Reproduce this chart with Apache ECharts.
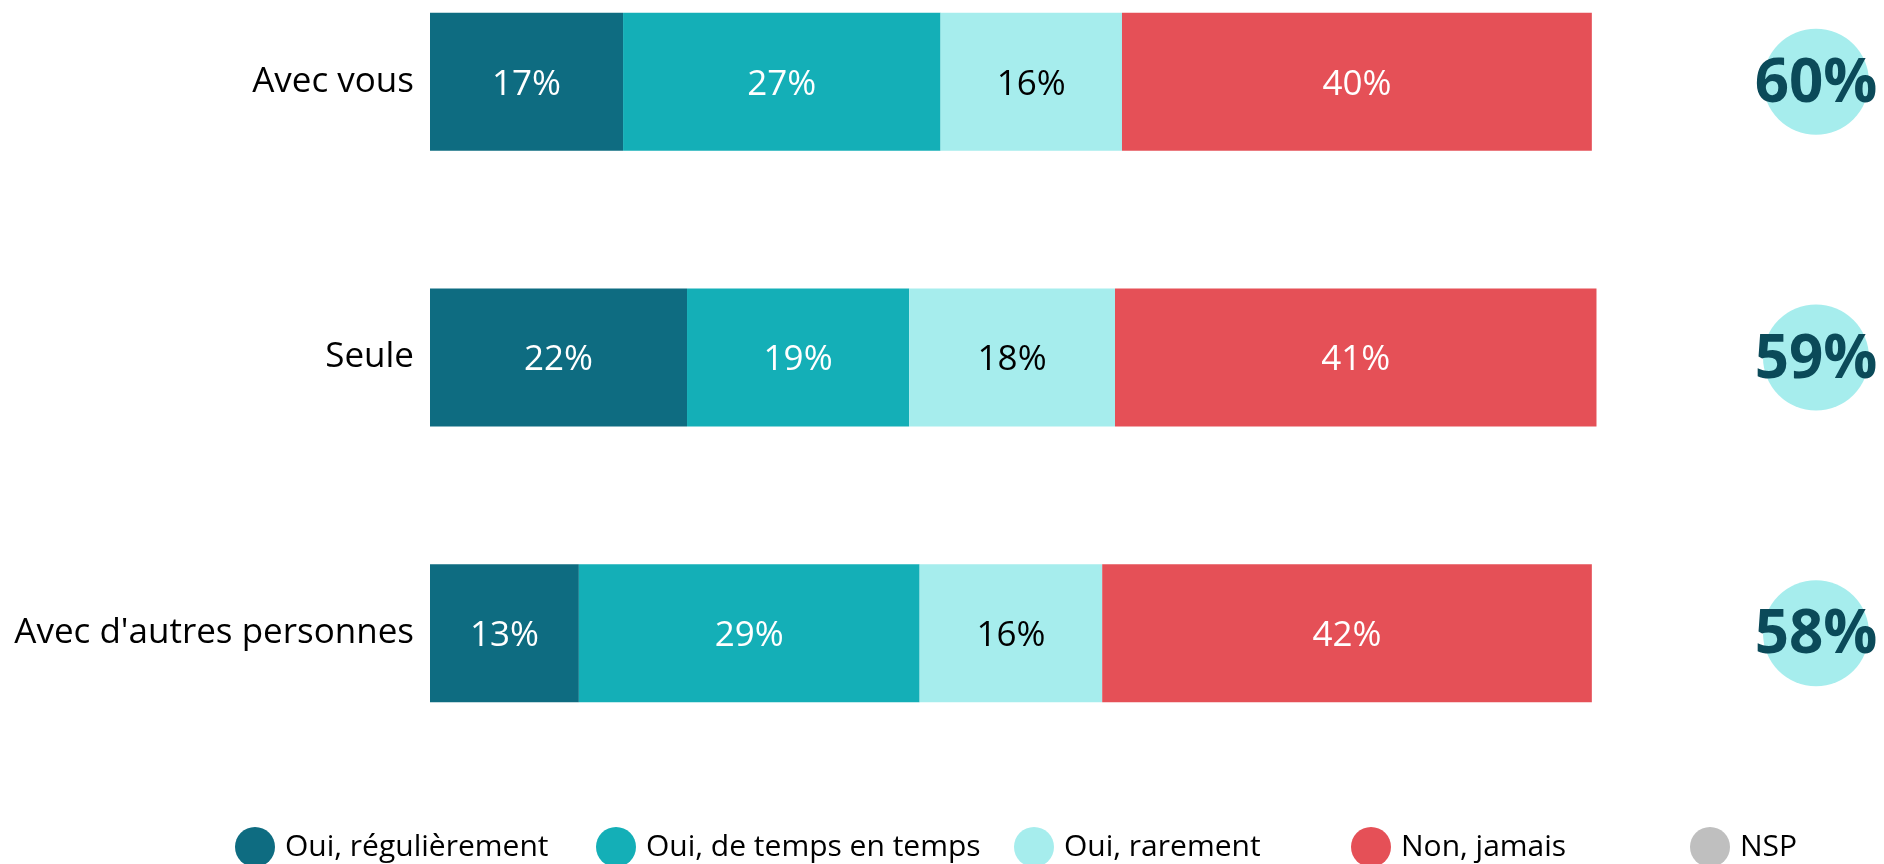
<!DOCTYPE html>
<html>
<head>
<meta charset="utf-8">
<script src="https://cdn.jsdelivr.net/npm/echarts@6/dist/echarts.min.js"></script>
<style>
  html, body { margin: 0; padding: 0; background: #fff; }
  #chart { width: 1884px; height: 864px; }
</style>
</head>
<body>
<div id="chart"></div>
<script>
// catégories (du haut vers le bas)
var categories = ["Avec vous", "Seule", "Avec d'autres personnes"];
var ouiRegulierement = [16.6, 22.1, 12.8];
var ouiTempsEnTemps = [27.3, 19.1, 29.3];
var ouiRarement = [15.6, 17.7, 15.7];
var nonJamais = [40.4, 41.4, 42.1];
var nsp = [0, 0, 0];
// total "Oui" affiché dans les pastilles
var totalOui = [60, 59, 58];

var seriesNames = ["Oui, régulièrement", "Oui, de temps en temps", "Oui, rarement", "Non, jamais", "NSP"];
var colors = ["#0e6c81", "#14afb7", "#a6eded", "#e55057", "#bfbfbf"];
var labelColors = ["#fff", "#fff", "#000", "#fff", "#000"];
var seriesData = [ouiRegulierement, ouiTempsEnTemps, ouiRarement, nonJamais, nsp];

var font = "'Open Sans', 'Noto Sans', sans-serif";

var chart = echarts.init(document.getElementById("chart"));

var series = seriesData.map(function (d, i) {
  return {
    name: seriesNames[i],
    type: "bar",
    stack: "total",
    barWidth: 138,
    clip: false,
    data: d,
    itemStyle: { color: colors[i] },
    label: {
      show: i < 4,
      position: "inside",
      offset: [0, 3],
      color: labelColors[i],
      fontFamily: font,
      fontSize: 35,
      formatter: function (p) { return Math.round(p.value) + "%"; }
    }
  };
});

// pastilles à droite
series.push({
  name: "total",
  type: "scatter",
  xAxisIndex: 1,
  yAxisIndex: 1,
  symbolSize: 106,
  itemStyle: { color: "#a6eded", opacity: 1 },
  data: totalOui.map(function (v, i) { return [0, i, v]; }),
  label: {
    show: true,
    position: "inside",
    offset: [0, 3],
    color: "#0b4a59",
    opacity: 1,
    fontFamily: font,
    fontWeight: "bold",
    fontSize: 60,
    formatter: function (p) { return p.value[2] + "%"; }
  }
});

// légende : positions des éléments
var legendLeft = [230, 591, 1009, 1346, 1685];
var legends = seriesNames.map(function (n, i) {
  return {
    data: [n],
    left: legendLeft[i],
    top: 822,
    itemWidth: 40,
    itemHeight: 40,
    icon: "circle",
    textStyle: { fontFamily: font, fontSize: 30, color: "#000", padding: [0, 0, 0, 5] }
  };
});

var option = {
  animation: false,
  backgroundColor: "#fff",
  legend: legends,
  grid: [
    { left: 430, width: 1163, top: -56, height: 827, outerBoundsMode: "none", containLabel: false },
    { left: 1763, width: 106, top: -56, height: 827, outerBoundsMode: "none", containLabel: false }
  ],
  xAxis: [
    { type: "value", min: 0, max: 100, show: false, gridIndex: 0 },
    { type: "value", min: -1, max: 1, show: false, gridIndex: 1 }
  ],
  yAxis: [
    {
      type: "category",
      data: categories,
      inverse: true,
      gridIndex: 0,
      axisLine: { show: false },
      axisTick: { show: false },
      axisLabel: { color: "#000", fontFamily: font, fontSize: 35, margin: 16, padding: [4, 0, 0, 0] }
    },
    {
      type: "category",
      data: categories,
      inverse: true,
      gridIndex: 1,
      show: false
    }
  ],
  series: series
};

chart.setOption(option);
</script>
</body>
</html>
